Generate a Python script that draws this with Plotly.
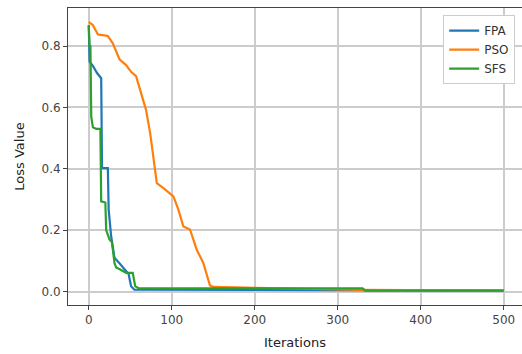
import plotly.graph_objects as go

# Breakpoints of each convergence curve (iteration, loss value)
fpa_iter = [0, 1, 5, 10, 15, 16, 23, 24, 27, 31, 37, 41, 48, 50, 51, 55, 330, 500]
fpa_loss = [0.868, 0.749, 0.735, 0.712, 0.695, 0.402, 0.402, 0.267, 0.18, 0.11, 0.092,
            0.078, 0.057, 0.03, 0.017, 0.006, 0.004, 0.003]

pso_iter = [0, 5, 11, 23, 29, 37, 45, 51, 57, 63, 69, 74, 78, 82, 90, 102, 108, 114,
            122, 130, 138, 146, 150, 200, 260, 330, 500]
pso_loss = [0.879, 0.868, 0.838, 0.833, 0.809, 0.757, 0.738, 0.716, 0.702, 0.646, 0.592,
            0.516, 0.429, 0.353, 0.337, 0.310, 0.267, 0.212, 0.202, 0.137, 0.093, 0.02,
            0.015, 0.012, 0.009, 0.005, 0.003]

sfs_iter = [0, 1, 2, 3, 5, 9, 14, 15, 20, 21, 25, 28, 31, 33, 39, 45, 53, 56, 60, 330, 333, 500]
sfs_loss = [0.868, 0.80, 0.80, 0.57, 0.535, 0.53, 0.53, 0.294, 0.29, 0.20, 0.17, 0.16,
            0.093, 0.078, 0.07, 0.061, 0.061, 0.017, 0.011, 0.010, 0.003, 0.003]

series_names = ["FPA", "PSO", "SFS"]
series_colors = ["#1f77b4", "#ff7f0e", "#2ca02c"]

x_ticks = [0, 100, 200, 300, 400, 500]
y_ticks = [0.0, 0.2, 0.4, 0.6, 0.8]
y_tick_text = ["0.0", "0.2", "0.4", "0.6", "0.8"]

fig = go.Figure()
for name, xs, ys, col in zip(series_names,
                             [fpa_iter, pso_iter, sfs_iter],
                             [fpa_loss, pso_loss, sfs_loss],
                             series_colors):
    fig.add_trace(go.Scatter(x=xs, y=ys, mode="lines", name=name,
                             line=dict(color=col, width=2.2)))

font_family = "DejaVu Sans, sans-serif"
fig.update_layout(
    width=522, height=354,
    margin=dict(l=68, r=0, t=8, b=49),
    paper_bgcolor="white", plot_bgcolor="white",
    font=dict(family=font_family, size=12, color="#444"),
    showlegend=True,
    legend=dict(x=0.985, y=0.976, xanchor="right", yanchor="top",
                bgcolor="white", bordercolor="#cccccc", borderwidth=1,
                font=dict(size=12, color="#333"), tracegroupgap=0,
                itemwidth=30),
    xaxis=dict(range=[-25, 522], tickvals=x_ticks, ticks="outside", ticklen=4,
               tickcolor="#444", showline=True, linecolor="#444", linewidth=1,
               mirror=True, showgrid=True, gridcolor="#cccccc", gridwidth=1.5,
               zeroline=False,
               title=dict(text="Iterations", font=dict(size=13, color="#222"), standoff=11)),
    yaxis=dict(range=[-0.044, 0.924], tickvals=y_ticks, ticktext=y_tick_text,
               ticks="outside", ticklen=4, tickcolor="#444", showline=True,
               linecolor="#444", linewidth=1, mirror=True, showgrid=True,
               gridcolor="#cccccc", gridwidth=1.5, zeroline=False,
               title=dict(text="Loss Value", font=dict(size=13, color="#222"), standoff=13)),
)

fig.write_html("out.html")
